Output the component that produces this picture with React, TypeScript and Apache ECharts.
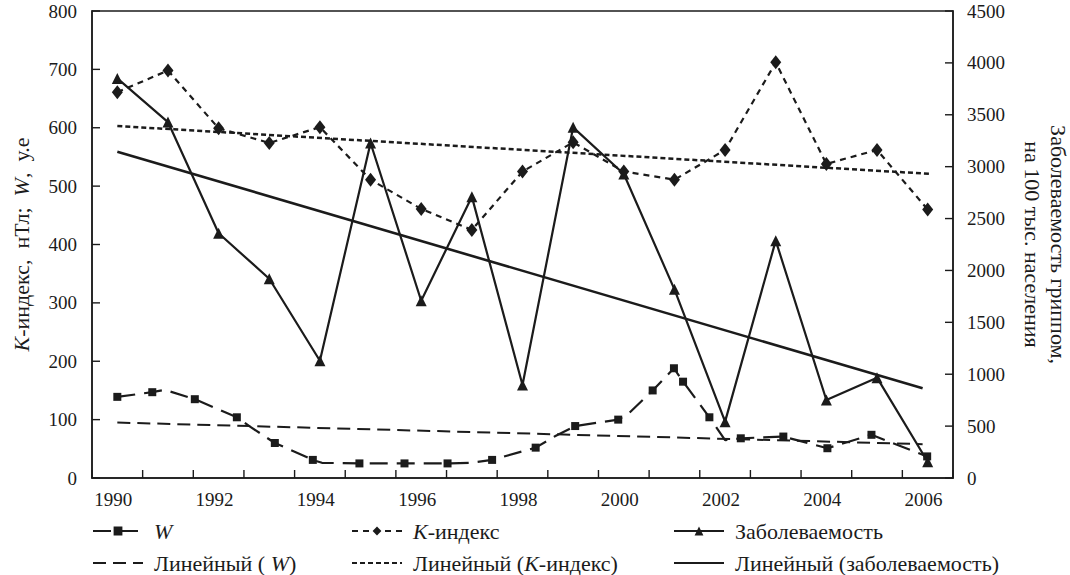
import React, { useEffect, useRef } from "react";
import * as echarts from "echarts";

// ---------- data ----------
const years = [1990, 1991, 1992, 1993, 1994, 1995, 1996, 1997, 1998, 1999, 2000, 2001, 2002, 2003, 2004, 2005, 2006];
const xTickLabels = [1990, 1992, 1994, 1996, 1998, 2000, 2002, 2004, 2006];
const leftTicks = [0, 100, 200, 300, 400, 500, 600, 700, 800];
const rightTicks = [0, 500, 1000, 1500, 2000, 2500, 3000, 3500, 4000, 4500];

const kIndex = [661, 698, 599, 574, 601, 511, 461, 425, 525, 575, 525, 511, 562, 712, 538, 562, 460];
const incidence = [3850, 3430, 2358, 1920, 1130, 3228, 1708, 2711, 896, 3379, 2929, 1818, 543, 2287, 752, 967, 157];

const wYears = [1990.0, 1990.69, 1990.94, 1991.53, 1992.36, 1992.62, 1993.11, 1993.86, 1994.04, 1994.78, 1995.67, 1996.52, 1996.96, 1997.4, 1998.26, 1998.65, 1999.04, 1999.89, 2000.09, 2000.57, 2000.99, 2001.17, 2001.69, 2002.0, 2002.31, 2003.15, 2004.02, 2004.89, 2005.99];
const wValues = [139, 147, 151, 135, 104, 88, 60, 31, 26, 25, 25, 25, 26, 31, 52, 72, 89, 100, 110, 150, 188, 165, 104, 65, 68, 71, 51, 74, 37];
const wUnmarked = [2, 5, 8, 12, 15, 18, 23];

const wTrendX = [1990.0, 2005.9];
const wTrendY = [95, 58];
const kTrendX = [1990.0, 2006.05];
const kTrendY = [603, 521];
const incTrendX = [1990.0, 2005.9];
const incTrendY = [3144, 864];

const leftName = "{i|K}-индекс,  нТл;  {i|W},  у.е";
const rightName = "Заболеваемость гриппом,\nна 100 тыс. населения";

// ---------- styling ----------
const INK = "#1b1b1b";
const FONT = "'Liberation Serif', 'DejaVu Serif', serif";
const X_MIN = 1989.5;
const X_MAX = 2006.5;
const LABEL_SHIFT = -0.08;
const TXT = 22;
const TICK_LEN = 8;

const xTickPositions: number[] = [];
for (let v = X_MIN; v <= X_MAX + 1e-9; v += 1) xTickPositions.push(v);

const legendNames: Record<string, string> = {
  W: "{i|W}",
  "K-индекс": "{i|K}-индекс",
  "Заболеваемость": "Заболеваемость",
  "Линейный (W)": "Линейный ( {i|W})",
  "Линейный (K-индекс)": "Линейный ({i|K}-индекс)",
  "Линейный (заболеваемость)": "Линейный (заболеваемость)",
};
const trendNames = ["Линейный (W)", "Линейный (K-индекс)", "Линейный (заболеваемость)"];

function legendAt(left: number, top: number, name: string) {
  return {
    left,
    top,
    orient: "horizontal",
    padding: 0,
    itemWidth: 50,
    itemHeight: 11,
    data: [trendNames.includes(name) ? { name, itemStyle: { opacity: 0 } } : { name }],
    formatter: (n: string) => legendNames[n] ?? n,
    textStyle: {
      fontFamily: FONT,
      fontSize: TXT,
      lineHeight: 22,
      color: INK,
      padding: [0, 0, 0, 6],
      rich: { i: { fontStyle: "italic", fontFamily: FONT, fontSize: TXT, lineHeight: 22, color: INK } },
    },
  };
}

// short tick marks drawn through the axes' own scales
function tickSeries(id: string, yAxisIndex: number, points: number[][], dx: number, dy: number) {
  return {
    type: "custom",
    id,
    coordinateSystem: "cartesian2d",
    xAxisIndex: 0,
    yAxisIndex,
    silent: true,
    clip: false,
    z: 10,
    data: points,
    renderItem: (_p: any, api: any) => {
      const p = api.coord([api.value(0), api.value(1)]);
      return {
        type: "line",
        shape: { x1: p[0], y1: p[1], x2: p[0] + dx, y2: p[1] + dy },
        style: { stroke: INK, lineWidth: 1.4 },
      };
    },
  };
}

const ROW1 = 520;
const ROW2 = 552;

export default function App() {
  const ref = useRef<HTMLDivElement>(null);

  useEffect(() => {
    if (!ref.current) return;
    const chart = echarts.init(ref.current, undefined, { renderer: "svg" });

    const wData = wYears.map((x, i) =>
      wUnmarked.includes(i) ? { value: [x, wValues[i]], symbol: "none" } : [x, wValues[i]]
    );

    chart.setOption({
      animation: false,
      backgroundColor: "#ffffff",
      textStyle: { fontFamily: FONT, color: INK },
      grid: {
        left: 92,
        top: 11,
        right: 117,
        bottom: 97,
        show: true,
        borderColor: INK,
        borderWidth: 1.5,
        outerBoundsMode: "none",
        containLabel: false,
      },
      legend: [
        legendAt(92, ROW1, "W"),
        legendAt(92, ROW2, "Линейный (W)"),
        legendAt(351, ROW1, "K-индекс"),
        legendAt(351, ROW2, "Линейный (K-индекс)"),
        legendAt(673, ROW1, "Заболеваемость"),
        legendAt(673, ROW2, "Линейный (заболеваемость)"),
      ],
      xAxis: {
        type: "value",
        min: X_MIN,
        max: X_MAX,
        axisLine: { show: true, onZero: false, lineStyle: { color: INK, width: 1.5 } },
        axisTick: { show: false },
        axisLabel: {
          customValues: xTickLabels.map((y) => y + LABEL_SHIFT),
          formatter: (v: number) => String(Math.round(v)),
          fontFamily: FONT,
          fontSize: 19,
          color: INK,
          margin: 12,
        },
        splitLine: { show: false },
      },
      yAxis: [
        {
          type: "value",
          position: "left",
          min: 0,
          max: 800,
          interval: 100,
          axisLine: { show: true, lineStyle: { color: INK, width: 1.5 } },
          axisTick: { show: false },
          axisLabel: { fontFamily: FONT, fontSize: 19, color: INK, margin: 15 },
          splitLine: { show: false },
          name: leftName,
          nameLocation: "middle",
          nameGap: 60,
          nameRotate: 90,
          nameTextStyle: {
            fontFamily: FONT,
            fontSize: TXT,
            color: INK,
            rich: { i: { fontStyle: "italic", fontFamily: FONT, fontSize: TXT, color: INK } },
          },
        },
        {
          type: "value",
          position: "right",
          min: 0,
          max: 4500,
          interval: 500,
          axisLine: { show: true, lineStyle: { color: INK, width: 1.5 } },
          axisTick: { show: false },
          axisLabel: {
            fontFamily: FONT,
            fontSize: 19,
            color: INK,
            margin: 14,
            formatter: (v: number) => String(v),
          },
          splitLine: { show: false },
          name: rightName,
          nameLocation: "middle",
          nameGap: 66,
          nameRotate: -90,
          nameTextStyle: { fontFamily: FONT, fontSize: TXT, color: INK, lineHeight: 26 },
        },
      ],
      series: [
        {
          name: "W",
          type: "line",
          yAxisIndex: 0,
          data: wData,
          symbol: "rect",
          symbolSize: 8,
          showAllSymbol: true,
          itemStyle: { color: INK },
          lineStyle: { color: INK, width: 2.2, type: [18, 9] },
          z: 5,
        },
        {
          name: "K-индекс",
          type: "line",
          yAxisIndex: 0,
          data: years.map((y, i) => [y, kIndex[i]]),
          symbol: "diamond",
          symbolSize: [11, 14],
          itemStyle: { color: INK },
          lineStyle: { color: INK, width: 2.2, type: [6, 5] },
          z: 5,
        },
        {
          name: "Заболеваемость",
          type: "line",
          yAxisIndex: 1,
          data: years.map((y, i) => [y, incidence[i]]),
          symbol: "triangle",
          symbolSize: 11,
          itemStyle: { color: INK },
          lineStyle: { color: INK, width: 2.2 },
          z: 5,
        },
        {
          name: "Линейный (W)",
          type: "line",
          yAxisIndex: 0,
          data: wTrendX.map((x, i) => [x, wTrendY[i]]),
          symbol: "none",
          lineStyle: { color: INK, width: 2, type: [13, 7] },
          itemStyle: { color: INK },
          z: 4,
        },
        {
          name: "Линейный (K-индекс)",
          type: "line",
          yAxisIndex: 0,
          data: kTrendX.map((x, i) => [x, kTrendY[i]]),
          symbol: "none",
          lineStyle: { color: INK, width: 2.5, type: [5, 3] },
          itemStyle: { color: INK },
          z: 4,
        },
        {
          name: "Линейный (заболеваемость)",
          type: "line",
          yAxisIndex: 1,
          data: incTrendX.map((x, i) => [x, incTrendY[i]]),
          symbol: "none",
          lineStyle: { color: INK, width: 2.6 },
          itemStyle: { color: INK },
          z: 4,
        },
        tickSeries("ticksLeft", 0, leftTicks.map((v) => [X_MIN, v]), TICK_LEN, 0),
        tickSeries("ticksRight", 1, rightTicks.map((v) => [X_MAX, v]), -TICK_LEN, 0),
        tickSeries("ticksBottom", 0, xTickPositions.map((x) => [x, 0]), 0, -TICK_LEN),
      ],
    });

    return () => chart.dispose();
  }, []);

  return (
    <div
      ref={ref}
      style={{ position: "fixed", left: 0, top: 0, width: 1070, height: 575, background: "#fff" }}
    />
  );
}
